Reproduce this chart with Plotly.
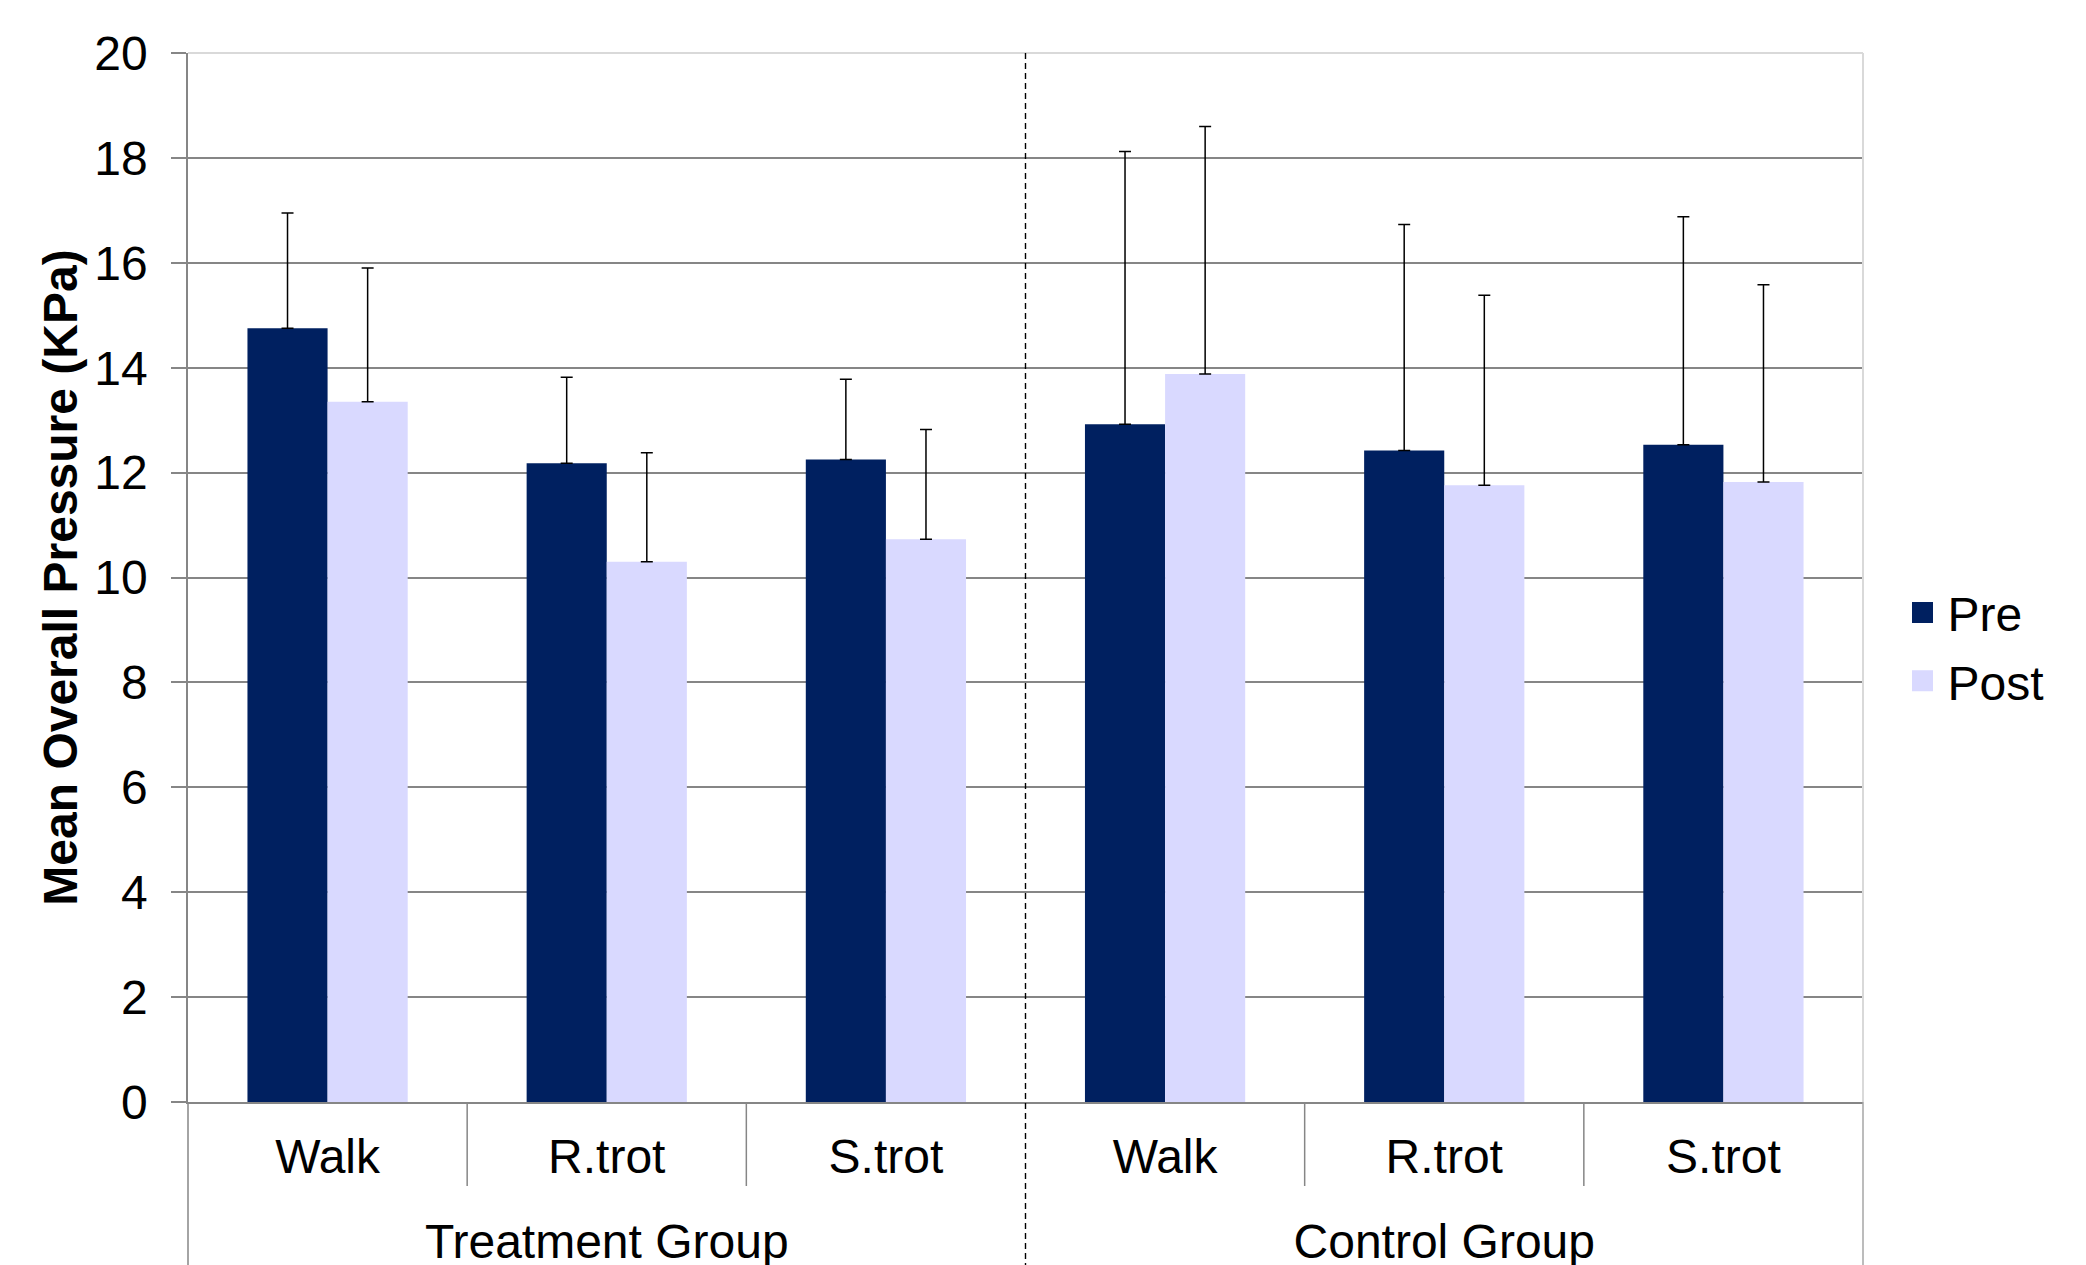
import plotly.graph_objects as go

# ---- data ----
group_names = ["Treatment Group", "Control Group"]
groups = ["Treatment Group"] * 3 + ["Control Group"] * 3
gaits = ["Walk", "R.trot", "S.trot", "Walk", "R.trot", "S.trot"]
pre_mean = [14.75, 12.18, 12.25, 12.92, 12.42, 12.53]
pre_sd = [2.20, 1.64, 1.53, 5.20, 4.31, 4.35]
post_mean = [13.35, 10.30, 10.73, 13.88, 11.76, 11.82]
post_sd = [2.55, 2.08, 2.09, 4.72, 3.62, 3.76]
zeros = [0] * 6
y_ticks = [0, 2, 4, 6, 8, 10, 12, 14, 16, 18, 20]

# unique category keys (group / gait); the axis shows only the gait name
cat_keys = [g + " / " + t for g, t in zip(groups, gaits)]

PRE_COLOR = "#002060"
POST_COLOR = "#D9D9FF"
GRID = "#868686"
LIGHT = "#D9D9D9"
FONT = "Liberation Sans, Arial, sans-serif"

W, H = 2078, 1257
ML, MR, MT, MB = 180, 223, 45, 163
plot_h = H - MT - MB

fig = go.Figure()

def add_bar(name, mean, sd, color):
    fig.add_trace(go.Bar(
        x=cat_keys, y=mean, name=name, marker=dict(color=color, line=dict(width=0)),
        error_y=dict(type="data", array=sd, arrayminus=zeros, symmetric=False,
                     color="black", thickness=1.5, width=6),
        showlegend=False,
    ))

add_bar("Pre", pre_mean, pre_sd, PRE_COLOR)
add_bar("Post", post_mean, post_sd, POST_COLOR)

# group labels on a second (overlaying) category axis
fig.add_trace(go.Scatter(x=group_names, y=[None, None], xaxis="x3", mode="markers",
                         showlegend=False, hoverinfo="skip"))

# legend-only entries (bigger squares)
for nm, col, grp in [("Pre", PRE_COLOR, "a"), ("Post", POST_COLOR, "b")]:
    fig.add_trace(go.Scatter(
        x=[None], y=[None], mode="markers", name=nm, legendgroup=grp,
        marker=dict(symbol="square", size=16, color=col, line=dict(color=col, width=5)),
        xaxis="x2", yaxis="y2", showlegend=True,
    ))

shapes = []
shapes.append(dict(type="line", xref="x domain", yref="y domain", x0=0, x1=1, y0=1, y1=1,
                   line=dict(color=LIGHT, width=2), layer="above"))
shapes.append(dict(type="line", xref="x domain", yref="y domain", x0=1, x1=1, y0=0, y1=1,
                   line=dict(color=LIGHT, width=2), layer="above"))
below = -0.25
inner_len = -84 / plot_h
n = len(gaits)
for k in range(n + 1):
    xf = k / n
    if k == 0:
        shapes.append(dict(type="line", xref="x domain", yref="paper", x0=xf, x1=xf, y0=0, y1=below,
                           line=dict(color=GRID, width=1.5)))
    elif k == n:
        shapes.append(dict(type="line", xref="x domain", yref="paper", x0=xf, x1=xf, y0=0, y1=below,
                           line=dict(color="#A6A6A6", width=1.5)))
    elif k == 3:
        shapes.append(dict(type="line", xref="x domain", yref="paper", x0=xf, x1=xf, y0=1, y1=below,
                           line=dict(color="black", width=1.4, dash="6px,4px"), layer="above"))
    else:
        shapes.append(dict(type="line", xref="x domain", yref="paper", x0=xf, x1=xf, y0=0, y1=inner_len,
                           line=dict(color=GRID, width=1.5)))

fig.update_layout(
    width=W, height=H,
    margin=dict(l=ML, r=MR, t=MT, b=MB, pad=0),
    paper_bgcolor="white", plot_bgcolor="white",
    font=dict(family=FONT, color="black", size=48),
    barmode="group", bargap=0.426, bargroupgap=0,
    shapes=shapes,
    legend=dict(x=1.0206, xanchor="left", y=0.434, yanchor="middle",
                font=dict(size=48, family=FONT, color="black"),
                tracegroupgap=3, traceorder="grouped", bgcolor="rgba(0,0,0,0)",
                itemwidth=40),
    xaxis=dict(type="category", tickvals=cat_keys, ticktext=gaits,
               showline=True, linecolor=GRID, linewidth=1.5,
               showgrid=False, ticks="", automargin=False,
               tickfont=dict(size=48, family=FONT, color="black"), ticklabelstandoff=12),
    xaxis3=dict(type="category", overlaying="x", anchor="y", side="bottom",
                range=[-0.5, 1.5], showline=False, showgrid=False, ticks="", zeroline=False,
                automargin=False, tickfont=dict(size=48, family=FONT, color="black"),
                ticklabelstandoff=107),
    yaxis=dict(range=[0, 20], tickvals=y_ticks, showgrid=True, gridcolor=GRID, gridwidth=1.5,
               showline=True, linecolor=GRID, linewidth=1.5, ticks="outside", ticklen=15,
               tickcolor=GRID, tickwidth=1.5, zeroline=False, automargin=False,
               tickfont=dict(size=48, family=FONT, color="black"), ticklabelstandoff=14,
               title=dict(text="Mean Overall Pressure (KPa)", standoff=1,
                          font=dict(size=48, family=FONT, color="black", weight="bold"))),
    xaxis2=dict(visible=False, overlaying="x", range=[0, 1]),
    yaxis2=dict(visible=False, overlaying="y", range=[0, 1]),
)

fig.write_html("out.html")
